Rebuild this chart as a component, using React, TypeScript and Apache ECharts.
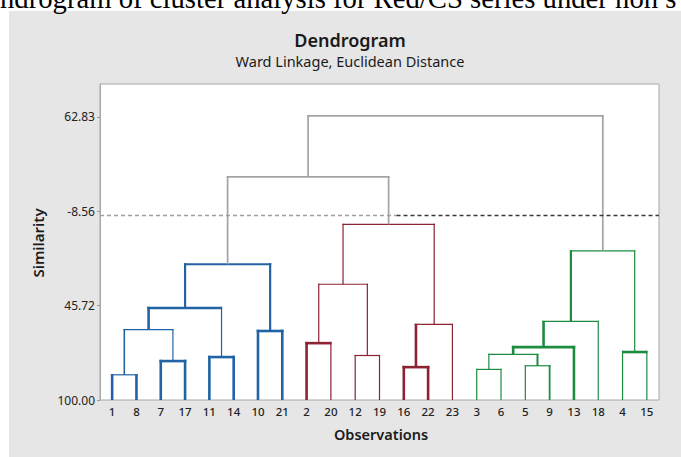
import React, { useEffect, useRef } from 'react';
import * as echarts from 'echarts';

// Leaf order along the x axis
const observations = ['1', '8', '7', '17', '11', '14', '10', '21', '2', '20', '12', '19', '16', '22', '23', '3', '6', '5', '9', '13', '18', '4', '15'];

// Ward linkage merges: left node, right node (leaf label or "mN"), similarity level
const mergeLeft = ['1', '7', 'm0', '11', 'm2', '10', 'm4', '2', '12', 'm7', '16', 'm10', 'm9', '3', '5', 'm13', 'm15', 'm16', '4', 'm17', 'm6', 'm20'];
const mergeRight = ['8', '17', 'm1', '14', 'm3', '21', 'm5', '20', '19', 'm8', '22', '23', 'm11', '6', '9', 'm14', '13', '18', '15', 'm18', 'm12', 'm19'];
const mergeSimilarity = [85.5, 77.6, 59.5, 75.3, 47.1, 60.3, 21.9, 67.3, 74.4, 33.4, 81.1, 56.5, -1.0, 82.4, 80.3, 73.8, 69.6, 54.8, 72.4, 14.2, -28.4, -63.5];
const mergeCluster = ['blue', 'blue', 'blue', 'blue', 'blue', 'blue', 'blue', 'red', 'red', 'red', 'red', 'red', 'red', 'green', 'green', 'green', 'green', 'green', 'green', 'green', 'none', 'none'];

const yTickValues = [100, 45.72, -8.56, -62.83];
const yTickLabels = ['100.00', '45.72', '-8.56', '62.83'];
const cutSimilarity = -6.3;

// styles (not data)
const clusterColor: Record<string, string> = { blue: '#2163a5', red: '#8c2232', green: '#1d8c40', none: '#a3a3a3' };
const T = 2.6;
const t = 1.2;
// [horizontal, left leg, right leg]
const mergeWidths: number[][] = [
  [t, T, T], [T, T, T], [t, 1.6, t], [T, T, T], [T, T, t], [T, T, T], [2.2, 2.2, 2.2],
  [T, T, t], [t, t, t], [t, t, t], [T, T, T], [t, T, t], [t, t, t],
  [t, t, t], [t, t, 1.8], [t, t, 2], [T, T, T], [t, T, t], [T, t, t], [t, 2.2, t],
  [1.7, 1.7, 1.7], [1.7, 1.7, 1.7],
];

export default function App() {
  const ref = useRef<HTMLDivElement>(null);
  useEffect(() => {
    if (!ref.current) return;
    const chart = echarts.init(ref.current, null, { renderer: 'svg' });

    const pos: Record<string, number> = {};
    const height: Record<string, number> = {};
    observations.forEach((o, i) => { pos[o] = i; height[o] = 100; });
    const linkData: number[][] = [];
    mergeLeft.forEach((a, i) => {
      const b = mergeRight[i];
      const s = mergeSimilarity[i];
      linkData.push([pos[a], pos[b], s, height[a], height[b], i]);
      pos['m' + i] = (pos[a] + pos[b]) / 2;
      height['m' + i] = s;
    });

    const sans = '"Noto Sans", "Open Sans", sans-serif';

    chart.setOption({
      animation: false,
      grid: { left: 100, right: 22, top: 84, bottom: 57, show: true, backgroundColor: '#ffffff', borderColor: '#a8a8a8', borderWidth: 1 },
      xAxis: [
        {
          type: 'category', data: observations, boundaryGap: true,
          axisLine: { show: false }, axisTick: { show: false },
          axisLabel: { color: '#222', fontSize: 11.5, fontWeight: 500, fontFamily: sans, margin: 5, interval: 0 },
          splitLine: { show: false },
        },
        { type: 'value', min: -0.5, max: 22.5, show: false, splitLine: { show: false } },
      ],
      yAxis: {
        type: 'value', inverse: true, min: -81.8, max: 100,
        splitLine: { show: false },
        axisLine: { show: true, onZero: false, lineStyle: { color: '#a8a8a8' } },
        axisTick: { show: true, length: 3, customValues: yTickValues, lineStyle: { color: '#999' } },
        axisLabel: {
          customValues: yTickValues, color: '#222', fontSize: 12, fontFamily: sans, margin: 5,
          formatter: (v: number) => {
            const k = yTickValues.findIndex((x) => Math.abs(x - v) < 1e-6);
            return k >= 0 ? yTickLabels[k] : '';
          },
        },
      },
      graphic: [
        { type: 'text', x: 0, y: -2, z: 100, style: { text: 'ndrogram of cluster analysis for Red/CS series under non s', font: '28.7px "Liberation Serif", "Times New Roman", serif', fill: '#000', verticalAlign: 'middle', align: 'left' } },
        { type: 'text', x: 350, y: 40, style: { text: 'Dendrogram', font: `600 18px ${sans}`, fill: '#1a1a1a', align: 'center', verticalAlign: 'middle' } },
        { type: 'text', x: 350, y: 61, style: { text: 'Ward Linkage, Euclidean Distance', font: `14.5px ${sans}`, fill: '#1a1a1a', align: 'center', verticalAlign: 'middle' } },
        { type: 'text', x: 38, y: 243, rotation: Math.PI / 2, style: { text: 'Similarity', font: `600 15px ${sans}`, fill: '#1a1a1a', align: 'center', verticalAlign: 'middle' } },
        { type: 'text', x: 381, y: 434, style: { text: 'Observations', font: `600 14.5px ${sans}`, fill: '#1a1a1a', align: 'center', verticalAlign: 'middle' } },
      ],
      series: [
        {
          type: 'custom',
          xAxisIndex: 1,
          yAxisIndex: 0,
          data: linkData,
          encode: { x: [0, 1], y: [2, 3, 4] },
          clip: false,
          renderItem: (params: any, api: any) => {
            const xa = api.value(0), xb = api.value(1), s = api.value(2), sa = api.value(3), sb = api.value(4);
            const i = api.value(5) as number;
            const w = mergeWidths[i];
            const color = clusterColor[mergeCluster[i]];
            const pA = api.coord([xa, sa]);
            const pAt = api.coord([xa, s]);
            const pBt = api.coord([xb, s]);
            const pB = api.coord([xb, sb]);
            return {
              type: 'group',
              children: [
                { type: 'line', shape: { x1: pA[0], y1: pA[1], x2: pAt[0], y2: pAt[1] - w[0] / 2 }, style: { stroke: color, lineWidth: w[1], lineCap: 'butt' } },
                { type: 'line', shape: { x1: pB[0], y1: pB[1], x2: pBt[0], y2: pBt[1] - w[0] / 2 }, style: { stroke: color, lineWidth: w[2], lineCap: 'butt' } },
                { type: 'line', shape: { x1: pAt[0] - w[1] / 2, y1: pAt[1], x2: pBt[0] + w[2] / 2, y2: pBt[1] }, style: { stroke: color, lineWidth: w[0], lineCap: 'butt' } },
              ],
            };
          },
          markLine: {
            silent: true,
            symbol: 'none',
            label: { show: false },
            data: [
              [{ coord: [-0.5, cutSimilarity], lineStyle: { color: '#a0a0a0', type: [4, 3], width: 1.4 } }, { coord: [11.7, cutSimilarity] }],
              [{ coord: [11.7, cutSimilarity], lineStyle: { color: '#3a3a3a', type: [4, 3], width: 1.3 } }, { coord: [22.5, cutSimilarity] }],
            ],
          },
        },
      ],
    });
    return () => chart.dispose();
  }, []);

  return (
    <div style={{ position: 'fixed', left: 0, top: 0, width: 681, height: 457, background: '#ffffff' }}>
      <div style={{ position: 'absolute', left: 9, top: 11, width: 672, height: 446, background: '#e6e6e6' }} />
      <div ref={ref} style={{ position: 'absolute', left: 0, top: 0, width: 681, height: 457 }} />
    </div>
  );
}
